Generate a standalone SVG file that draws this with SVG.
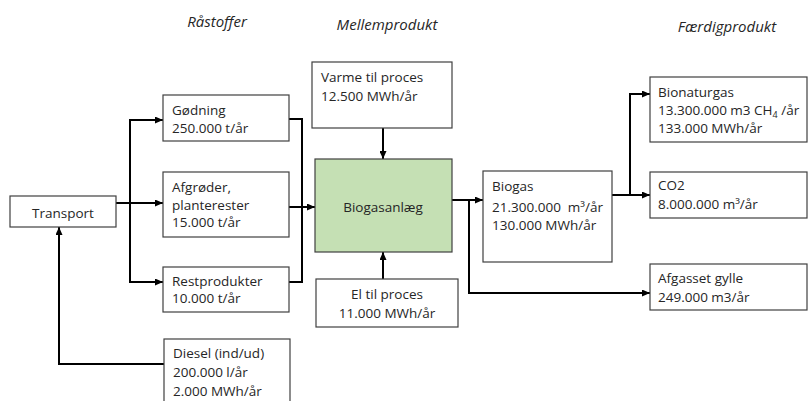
<svg xmlns="http://www.w3.org/2000/svg" width="808" height="401" viewBox="0 0 808 401">
<defs>
<style>
.box{fill:#ffffff;stroke:#404040;stroke-width:1.2}
.green{fill:#c5e0b4;stroke:#404040;stroke-width:1.2}
.t{font-family:"Open Sans","Liberation Sans",sans-serif;font-size:13.5px;fill:#262626}
.c{text-anchor:middle}
.h{font-family:"Open Sans","Liberation Sans",sans-serif;font-size:15px;font-style:italic;fill:#262626;text-anchor:middle}
.ln{fill:none;stroke:#000;stroke-width:2}
.ar{fill:none;stroke:#000;stroke-width:2;marker-end:url(#arr)}
</style>
<marker id="arr" markerUnits="userSpaceOnUse" markerWidth="8" markerHeight="7" refX="8" refY="3.5" orient="auto">
<path d="M0,0 L8,3.5 L0,7 z" fill="#000"/>
</marker>
</defs>
<rect width="808" height="401" fill="#ffffff"/>

<g id="headers">
<text class="h" x="217" y="27">Råstoffer</text>
<text class="h" x="387" y="30">Mellemprodukt</text>
<text class="h" x="727" y="32">Færdigprodukt</text>
</g>

<g id="connectors">
<path class="ln" d="M100,203 H130"/>
<path class="ar" d="M130,203 H163"/>
<path class="ar" d="M130,203 V120 H163"/>
<path class="ar" d="M130,203 V282 H163"/>
<path class="ar" d="M164,364 H59 V227"/>
<path class="ln" d="M289,119 H302 V282 H289"/>
<path class="ar" d="M283,207 H315"/>
<path class="ar" d="M383,128 V159"/>
<path class="ar" d="M383,279 V252"/>
<path class="ar" d="M452,200 H483"/>
<path class="ar" d="M469,200 V293 H650"/>
<path class="ar" d="M612,195 H650"/>
<path class="ar" d="M630,195 V94 H650"/>
</g>

<g id="transport">
<rect class="box" x="10" y="196" width="106" height="31"/>
<text class="t c" x="63" y="218">Transport</text>
</g>

<g id="goedning">
<rect class="box" x="163" y="95" width="126" height="46"/>
<text class="t" x="172" y="115">Gødning</text>
<text class="t" x="172" y="133">250.000 t/år</text>
</g>

<g id="afgroeder">
<rect class="box" x="163" y="172" width="126" height="65"/>
<text class="t" x="172" y="192">Afgrøder,</text>
<text class="t" x="172" y="210">planterester</text>
<text class="t" x="172" y="227">15.000 t/år</text>
</g>

<g id="restprodukter">
<rect class="box" x="163" y="267" width="126" height="45"/>
<text class="t" x="172" y="286">Restprodukter</text>
<text class="t" x="172" y="303">10.000 t/år</text>
</g>

<g id="diesel">
<rect class="box" x="164" y="339" width="126" height="70"/>
<text class="t" x="173" y="358">Diesel (ind/ud)</text>
<text class="t" x="173" y="377">200.000 l/år</text>
<text class="t" x="173" y="396">2.000 MWh/år</text>
</g>

<g id="varme">
<rect class="box" x="312" y="62" width="140" height="66"/>
<text class="t" x="321" y="82">Varme til proces</text>
<text class="t" x="321" y="101">12.500 MWh/år</text>
</g>

<g id="biogasanlaeg">
<rect class="green" x="315" y="159" width="137" height="93"/>
<text class="t c" x="383" y="212">Biogasanlæg</text>
</g>

<g id="el">
<rect class="box" x="316" y="279" width="142" height="48"/>
<text class="t c" x="387" y="299">El til proces</text>
<text class="t c" x="387" y="318">11.000 MWh/år</text>
</g>

<g id="biogas">
<rect class="box" x="483" y="171" width="129" height="91"/>
<text class="t" x="492" y="191">Biogas</text>
<text class="t" x="492" y="212" xml:space="preserve">21.300.000  m³/år</text>
<text class="t" x="492" y="230">130.000 MWh/år</text>
</g>

<g id="bionaturgas">
<rect class="box" x="650" y="77" width="157" height="65"/>
<text class="t" x="658" y="97">Bionaturgas</text>
<text class="t" x="658" y="115">13.300.000 m3 CH<tspan font-size="9" dy="3">4</tspan><tspan dy="-3"> /år</tspan></text>
<text class="t" x="658" y="133">133.000 MWh/år</text>
</g>

<g id="co2">
<rect class="box" x="650" y="172" width="157" height="46"/>
<text class="t" x="658" y="190">CO2</text>
<text class="t" x="658" y="209">8.000.000 m³/år</text>
</g>

<g id="afgasset">
<rect class="box" x="650" y="264" width="157" height="46"/>
<text class="t" x="658" y="283">Afgasset gylle</text>
<text class="t" x="658" y="302">249.000 m3/år</text>
</g>
</svg>
